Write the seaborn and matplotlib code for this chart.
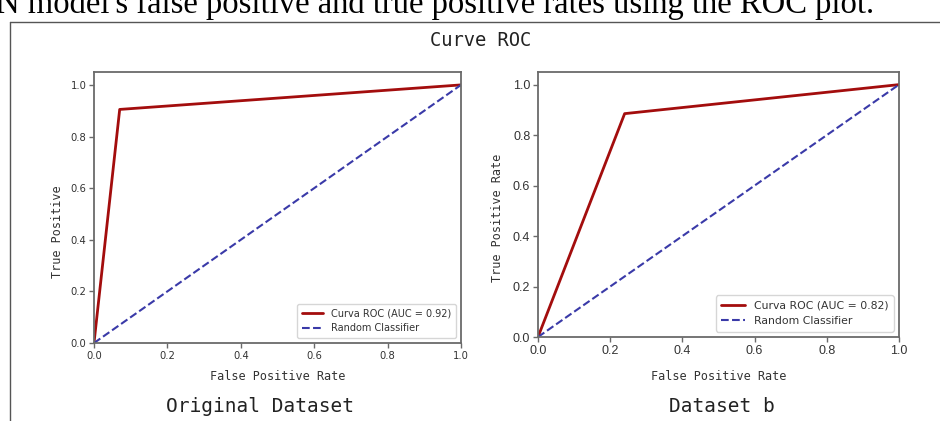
import matplotlib
matplotlib.use("Agg")
import matplotlib.pyplot as plt
import seaborn as sns
import pandas as pd
from matplotlib.lines import Line2D

sns.set_style("white")
plt.rcParams['font.family'] = ['DejaVu Sans']

# ---- data ----
fpr_orig = [0.0, 0.07, 1.0]
tpr_orig = [0.0, 0.905, 1.0]
fpr_b = [0.0, 0.24, 1.0]
tpr_b = [0.0, 0.885, 1.0]
diag_x = [0.0, 1.0]
diag_y = [0.0, 1.0]
auc_orig = 0.92
auc_b = 0.82
ticks = [0.0, 0.2, 0.4, 0.6, 0.8, 1.0]
captions = ["Original Dataset", "Dataset b"]

W, H = 940, 421
fig = plt.figure(figsize=(W / 100, H / 100), dpi=100)

def px_axes(x0, y0, x1, y1):
    return fig.add_axes([x0 / W, (H - y1) / H, (x1 - x0) / W, (y1 - y0) / H])

roc_col = "#a30d0d"
diag_col = "#3a3aa8"
spine_col = "#6a6a6a"
txt_col = "#333333"

def draw(ax, fpr, tpr, auc, tick_fs, leg_fs, ylabel, ylab_pos, xlab_y, tick_family):
    df = pd.DataFrame({"fpr": fpr, "tpr": tpr})
    dd = pd.DataFrame({"x": diag_x, "y": diag_y})
    sns.lineplot(data=df, x="fpr", y="tpr", ax=ax, color=roc_col, lw=2,
                 label=f"Curva ROC (AUC = {auc:.2f})", sort=False, estimator=None)
    sns.lineplot(data=dd, x="x", y="y", ax=ax, color=diag_col, lw=1.5,
                 linestyle="--", label="Random Classifier", estimator=None)
    ax.set_xlim(0, 1.0)
    ax.set_ylim(0, 1.05)
    ax.set_xticks(ticks)
    ax.set_yticks(ticks)
    ax.set_xticklabels([f"{t:.1f}" for t in ticks], fontsize=tick_fs,
                       color=txt_col, family=tick_family)
    ax.set_yticklabels([f"{t:.1f}" for t in ticks], fontsize=tick_fs,
                       color=txt_col, family=tick_family)
    ax.tick_params(axis="both", length=3.5, width=1, color=spine_col,
                   direction="out", bottom=True, left=True, pad=2)
    for s in ax.spines.values():
        s.set_color(spine_col)
        s.set_linewidth(1.3)
    ax.set_xlabel("False Positive Rate", family="DejaVu Sans Mono",
                  fontsize=8.5, color=txt_col)
    ax.set_ylabel(ylabel, family="DejaVu Sans Mono", fontsize=8.5, color=txt_col)
    ax.xaxis.set_label_coords(0.5, xlab_y)
    ax.yaxis.set_label_coords(ylab_pos[0], ylab_pos[1])
    leg = ax.legend(loc="lower right", fontsize=leg_fs, frameon=True,
                    handlelength=2.2, borderpad=0.5, labelspacing=0.5,
                    fancybox=True)
    leg.get_frame().set_edgecolor("#cccccc")
    for t in leg.get_texts():
        t.set_color(txt_col)

ax1 = px_axes(94, 72, 461, 343)
draw(ax1, fpr_orig, tpr_orig, auc_orig, 7.2, 7.0, "True Positive",
     (-0.082, 0.41), -0.1, "DejaVu Sans")

ax2 = px_axes(538, 72, 899, 337)
draw(ax2, fpr_b, tpr_b, auc_b, 9.0, 7.8, "True Positive Rate",
     (-0.094, 0.45), -0.125, "Liberation Sans")

# document frame
frame_y = 22
fig.add_artist(Line2D([10 / W, 10 / W], [0, (H - frame_y) / H], color="#555555",
                      lw=1.0, transform=fig.transFigure))
fig.add_artist(Line2D([10 / W, 1.0], [(H - frame_y) / H, (H - frame_y) / H],
                      color="#555555", lw=1.0, transform=fig.transFigure))

# document text
fig.text(-0.004, 1 - 13 / H,
         "N model's false positive and true positive rates using the ROC plot.",
         family="Liberation Serif", fontsize=23.5, color="black",
         ha="left", va="baseline")
fig.text(481 / W, 1 - 40 / H, "Curve ROC", family="DejaVu Sans Mono",
         fontsize=13.5, color="#222222", ha="center", va="center")
fig.text(260 / W, 1 - 406 / H, captions[0], family="DejaVu Sans Mono",
         fontsize=14, color="#222222", ha="center", va="center")
fig.text(722 / W, 1 - 406 / H, captions[1], family="DejaVu Sans Mono",
         fontsize=14, color="#222222", ha="center", va="center")

fig.savefig("out.png", dpi=100, facecolor="white")
